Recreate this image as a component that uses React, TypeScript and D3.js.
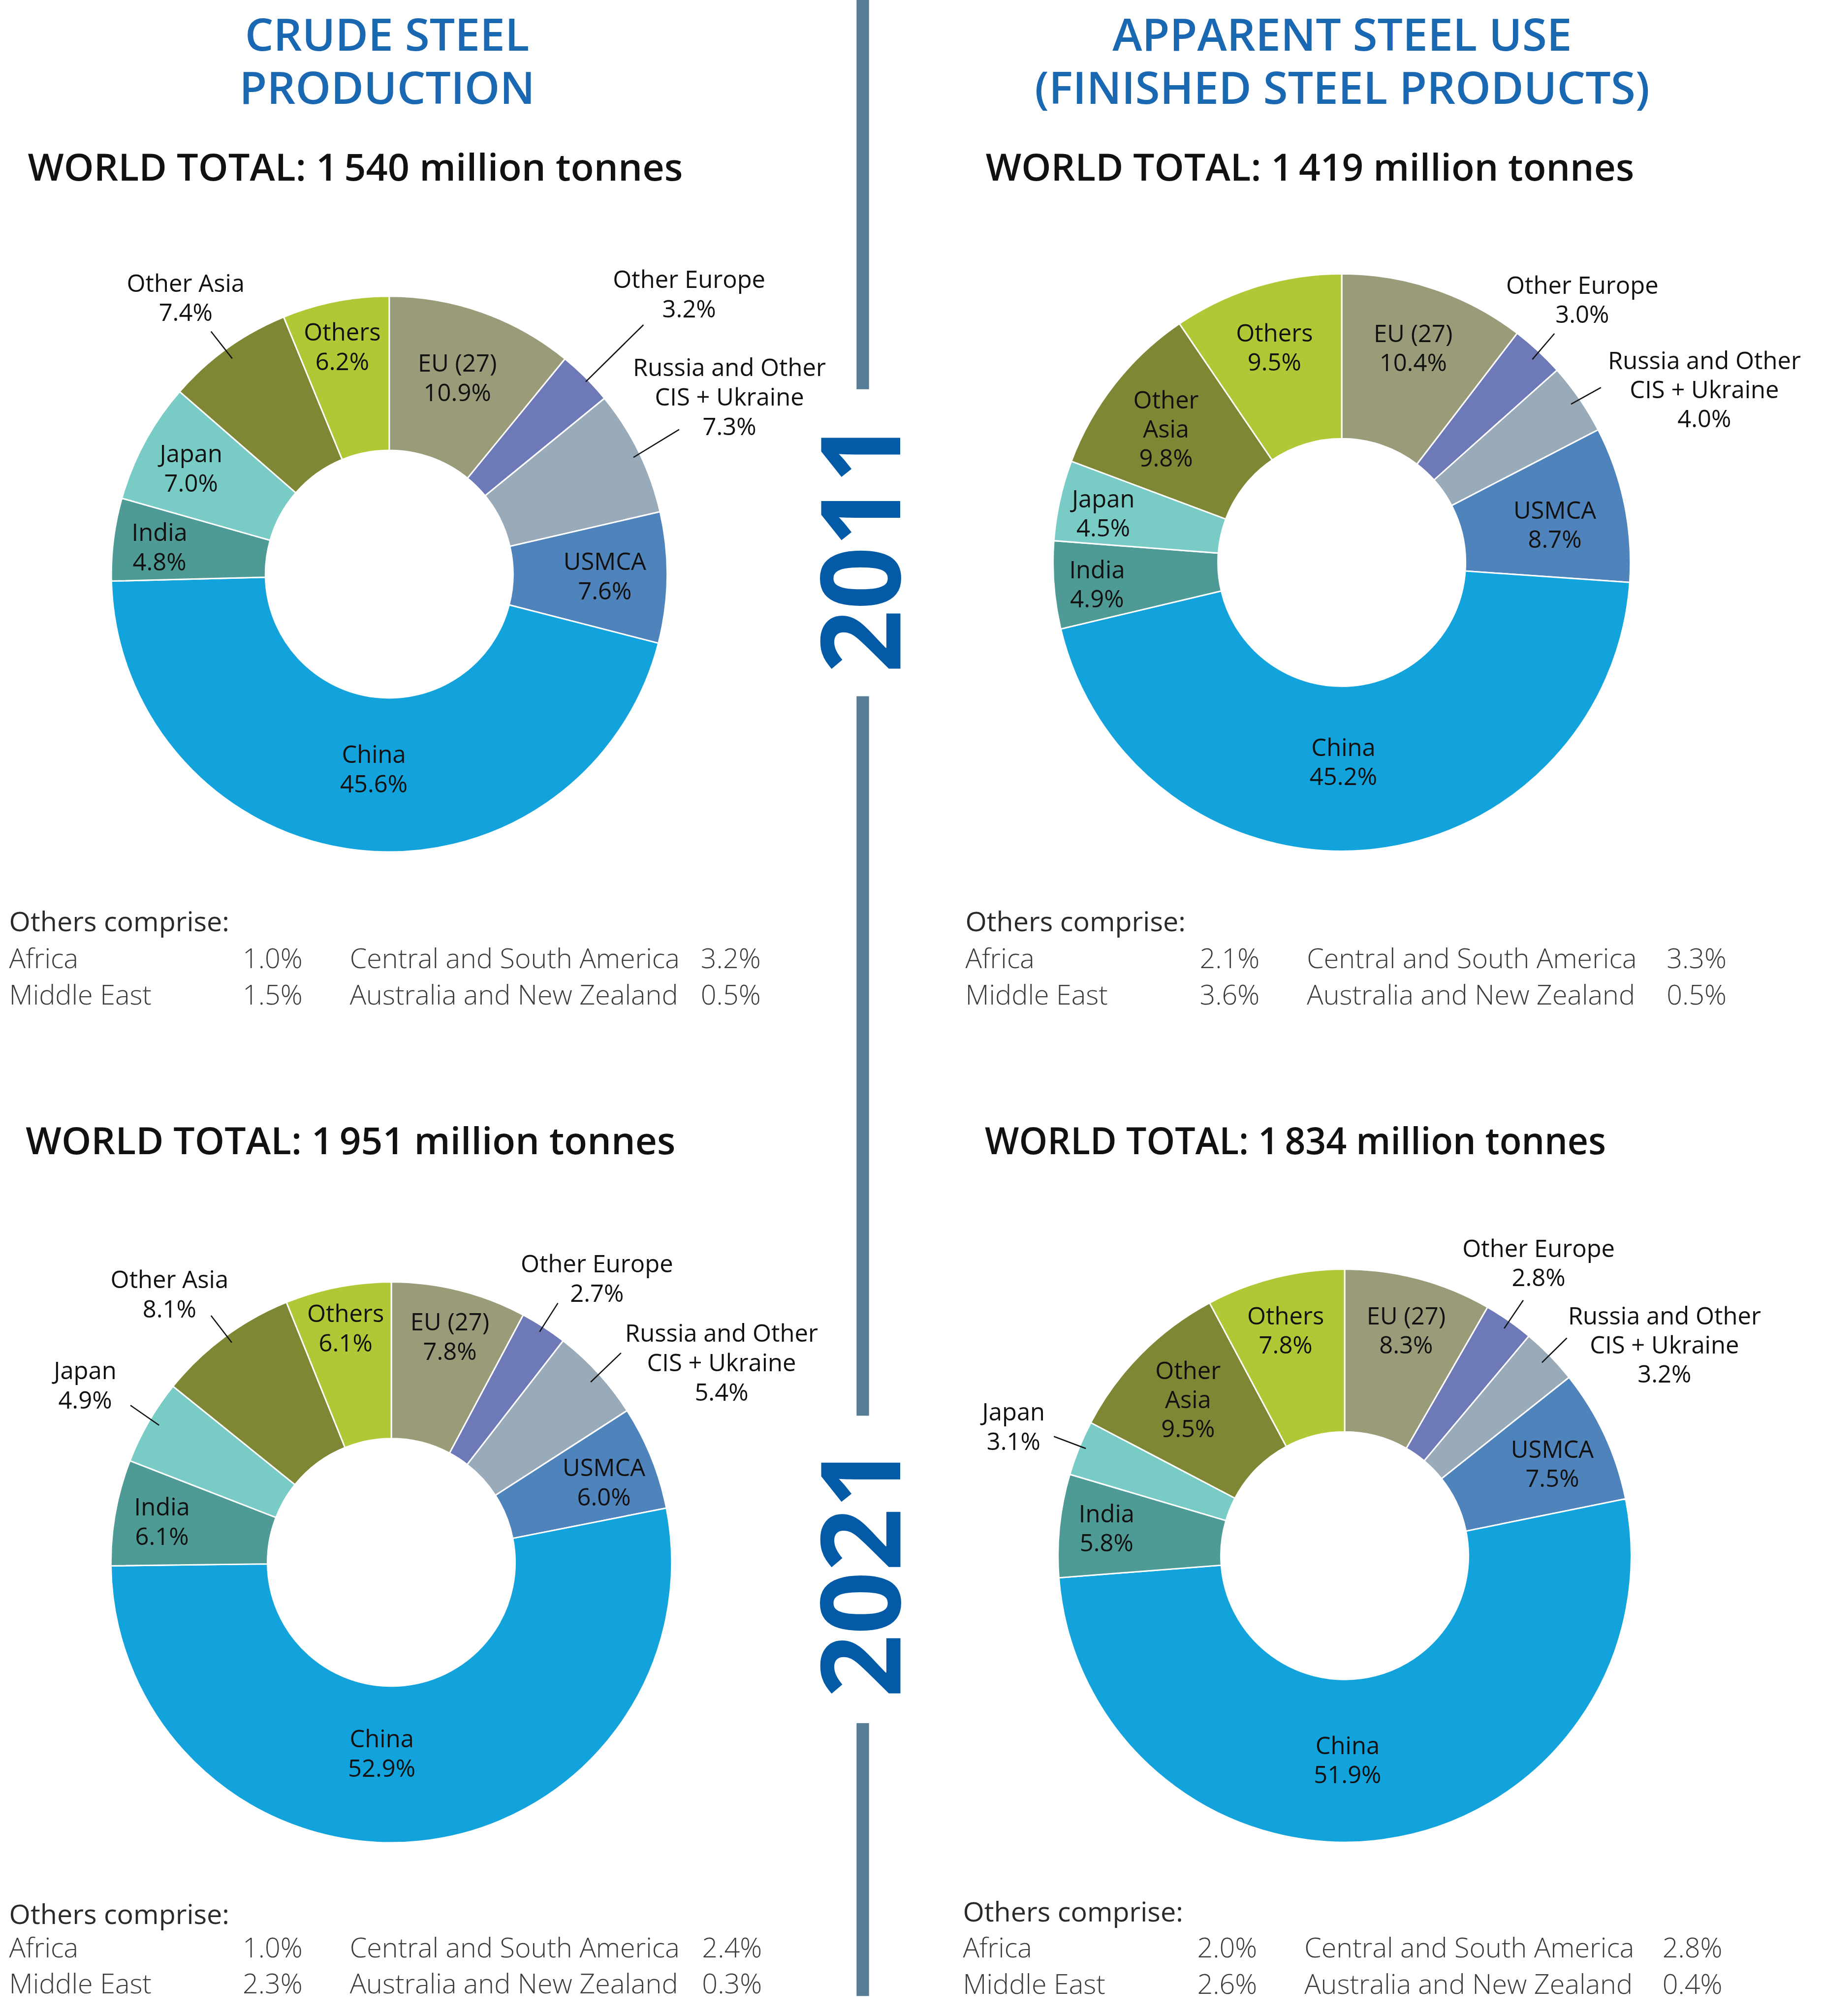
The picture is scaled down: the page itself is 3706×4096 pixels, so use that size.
import React from "react";
import * as d3 from "d3";

// ---------- DATA ----------
const categories = [
  "EU (27)",
  "Other Europe",
  "Russia and Other CIS + Ukraine",
  "USMCA",
  "China",
  "India",
  "Japan",
  "Other Asia",
  "Others",
];
const crude2011 = [10.9, 3.2, 7.3, 7.6, 45.6, 4.8, 7.0, 7.4, 6.2];
const use2011 = [10.4, 3.0, 4.0, 8.7, 45.2, 4.9, 4.5, 9.8, 9.5];
const crude2021 = [7.8, 2.7, 5.4, 6.0, 52.9, 6.1, 4.9, 8.1, 6.1];
const use2021 = [8.3, 2.8, 3.2, 7.5, 51.9, 5.8, 3.1, 9.5, 7.8];

const worldTotals = [1540, 1419, 1951, 1834];

const otherRegions = ["Africa", "Middle East", "Central and South America", "Australia and New Zealand"];
const othersCrude2011 = [1.0, 1.5, 3.2, 0.5];
const othersUse2011 = [2.1, 3.6, 3.3, 0.5];
const othersCrude2021 = [1.0, 2.3, 2.4, 0.3];
const othersUse2021 = [2.0, 2.6, 2.8, 0.4];

const years = ["2011", "2021"];
const columnTitles = [["CRUDE STEEL", "PRODUCTION"], ["APPARENT STEEL USE", "(FINISHED STEEL PRODUCTS)"]];

// ---------- STYLE / LAYOUT ----------
const colors = ["#9a9c79", "#6e79b8", "#99aab9", "#4f83bb", "#12a3dc", "#4e9a94", "#78ccc5", "#7f8734", "#b1c836"];
const FONT = "'Open Sans', 'Noto Sans', sans-serif";
const SCALE = 0.844;

type LabelPos = { dx: number; dy: number; lines: string[]; leader?: [number, number, number, number] };

// label anchor (centre of text, first baseline) relative to donut centre; per category index
const labelLayouts: LabelPos[][] = [
  [
    { dx: 164, dy: -487, lines: ["EU (27)"] },
    { dx: 722, dy: -689, lines: ["Other Europe"], leader: [612, -600, 473, -463] },
    { dx: 819, dy: -477, lines: ["Russia and Other", "CIS + Ukraine"], leader: [698, -348, 588, -281] },
    { dx: 519, dy: -10, lines: ["USMCA"] },
    { dx: -37, dy: 454, lines: ["China"] },
    { dx: -553, dy: -80, lines: ["India"] },
    { dx: -477, dy: -269, lines: ["Japan"] },
    { dx: -490, dy: -680, lines: ["Other Asia"], leader: [-429, -584, -378, -519] },
    { dx: -113, dy: -562, lines: ["Others"] },
  ],
  [
    { dx: 172, dy: -531, lines: ["EU (27)"] },
    { dx: 579, dy: -647, lines: ["Other Europe"], leader: [512, -551, 459, -489] },
    { dx: 873, dy: -465, lines: ["Russia and Other", "CIS + Ukraine"], leader: [624, -421, 552, -381] },
    { dx: 513, dy: -105, lines: ["USMCA"] },
    { dx: 4, dy: 466, lines: ["China"] },
    { dx: -589, dy: 38, lines: ["India"] },
    { dx: -574, dy: -132, lines: ["Japan"] },
    { dx: -423, dy: -371, lines: ["Other", "Asia"] },
    { dx: -162, dy: -532, lines: ["Others"] },
  ],
  [
    { dx: 141, dy: -558, lines: ["EU (27)"] },
    { dx: 495, dy: -698, lines: ["Other Europe"], leader: [401, -624, 357, -555] },
    { dx: 795, dy: -531, lines: ["Russia and Other", "CIS + Ukraine"], leader: [553, -504, 480, -434] },
    { dx: 512, dy: -208, lines: ["USMCA"] },
    { dx: -23, dy: 445, lines: ["China"] },
    { dx: -552, dy: -113, lines: ["India"] },
    { dx: -737, dy: -441, lines: ["Japan"], leader: [-628, -378, -559, -330] },
    { dx: -534, dy: -660, lines: ["Other Asia"], leader: [-434, -594, -384, -529] },
    { dx: -110, dy: -578, lines: ["Others"] },
  ],
  [
    { dx: 148, dy: -557, lines: ["EU (27)"] },
    { dx: 467, dy: -719, lines: ["Other Europe"], leader: [430, -615, 384, -547] },
    { dx: 770, dy: -557, lines: ["Russia and Other", "CIS + Ukraine"], leader: [535, -524, 475, -465] },
    { dx: 500, dy: -236, lines: ["USMCA"] },
    { dx: 7, dy: 478, lines: ["China"] },
    { dx: -573, dy: -80, lines: ["India"] },
    { dx: -797, dy: -325, lines: ["Japan"], leader: [-700, -287, -623, -258] },
    { dx: -377, dy: -425, lines: ["Other", "Asia"] },
    { dx: -142, dy: -557, lines: ["Others"] },
  ],
];

const charts = [
  { values: crude2011, others: othersCrude2011, total: worldTotals[0], cx: 937, cy: 1382, R: 669, r: 298, lh: 71,
    totalX: 67, totalY: 435, totalW: 1577, ox: 22, oc: [562, 820, 1665], oy: [2242, 2330, 2418], labels: labelLayouts[0] },
  { values: use2011, others: othersUse2011, total: worldTotals[1], cx: 3230, cy: 1354, R: 695, r: 298, lh: 70,
    totalX: 2373, totalY: 435, totalW: 1561, ox: 2324, oc: [564, 822, 1688], oy: [2242, 2330, 2418], labels: labelLayouts[1] },
  { values: crude2021, others: othersCrude2021, total: worldTotals[2], cx: 942, cy: 3761, R: 675, r: 298, lh: 71,
    totalX: 62, totalY: 2779, totalW: 1564, ox: 22, oc: [562, 820, 1668], oy: [4631, 4712, 4799], labels: labelLayouts[2] },
  { values: use2021, others: othersUse2021, total: worldTotals[3], cx: 3237, cy: 3745, R: 690, r: 298, lh: 70,
    totalX: 2371, totalY: 2779, totalW: 1495, ox: 2318, oc: [564, 822, 1684], oy: [4625, 4712, 4800], labels: labelLayouts[3] },
];

const fmtPct = (v: number) => v.toFixed(1) + "%";
const fmtTotal = (v: number) => {
  const s = String(v);
  return s.length > 3 ? s.slice(0, s.length - 3) + "\u2009" + s.slice(s.length - 3) : s;
};

function Donut({ chart }: { chart: (typeof charts)[number] }) {
  const pie = d3.pie<number>().sort(null).value((d) => d).startAngle(0).endAngle(2 * Math.PI);
  const arcs = pie(chart.values);
  const arc = d3.arc<d3.PieArcDatum<number>>().innerRadius(chart.r).outerRadius(chart.R);
  return (
    <g transform={`translate(${chart.cx},${chart.cy})`}>
      {arcs.map((a, i) => (
        <path key={categories[i]} d={arc(a) || ""} fill={colors[i]} stroke="#ffffff" strokeWidth={3.5} strokeLinejoin="miter" />
      ))}
      {arcs.map((a, i) => {
        const L = chart.labels[i];
        const lines = [...L.lines, fmtPct(chart.values[i])];
        return (
          <g key={"l" + i}>
            {L.leader && (
              <line x1={L.leader[0]} y1={L.leader[1]} x2={L.leader[2]} y2={L.leader[3]} stroke="#111" strokeWidth={3} />
            )}
            <text x={L.dx} y={L.dy} textAnchor="middle" fontFamily={FONT} fontSize={58} fill="#111">
              {lines.map((t, k) => (
                <tspan key={k} x={L.dx} dy={k === 0 ? 0 : chart.lh}>
                  {t}
                </tspan>
              ))}
            </text>
          </g>
        );
      })}
    </g>
  );
}

function OthersBlock({ chart }: { chart: (typeof charts)[number] }) {
  const { ox, oc, oy, others } = chart;
  return (
    <g fontFamily={FONT} fontSize={66}>
      <text x={ox} y={oy[0]} fill="#2a2a2a" fontWeight={400}>
        Others comprise:
      </text>
      {[0, 1].map((row) => (
        <g key={row} fill="#3c3c3c" fontWeight={300}>
          <text x={ox} y={oy[row + 1]}>{otherRegions[row]}</text>
          <text x={ox + oc[0]} y={oy[row + 1]}>{fmtPct(others[row])}</text>
          <text x={ox + oc[1]} y={oy[row + 1]}>{otherRegions[row + 2]}</text>
          <text x={ox + oc[2]} y={oy[row + 1]}>{fmtPct(others[row + 2])}</text>
        </g>
      ))}
    </g>
  );
}

export default function App() {
  const lineX = 2077;
  const lineSegs: [number, number][] = [
    [0, 937],
    [1676, 3408],
    [4148, 4805],
  ];
  return (
    <svg
      width={3706}
      height={4096}
      style={{ position: "absolute", left: 0, top: 0, background: "#fff" }}
      xmlns="http://www.w3.org/2000/svg"
    >
      <rect width={3706} height={4096} fill="#fff" />
      <g transform={`scale(${SCALE})`}>
        {/* column titles */}
        {columnTitles.map((t, i) =>
          t.map((line, k) => (
            <text
              key={i + "-" + k}
              x={i === 0 ? 932 : 3231}
              y={k === 0 ? 122 : 250}
              textAnchor="middle"
              fontFamily={FONT}
              fontWeight={600}
              fontSize={108}
              fill="#1a67b2"
            >
              {line}
            </text>
          ))
        )}

        {/* divider */}
        {lineSegs.map((s, i) => (
          <rect key={i} x={lineX - 15} y={s[0]} width={30} height={s[1] - s[0]} fill="#587d96" />
        ))}
        {years.map((y, i) => (
          <text
            key={y}
            transform={`translate(2167,${i === 0 ? 1316 : 3783}) rotate(-90)`}
            textAnchor="middle"
            fontFamily={FONT}
            fontWeight={700}
            fontSize={266}
            fill="#035ba8"
          >
            {y}
          </text>
        ))}

        {charts.map((c, i) => (
          <g key={i}>
            <text
              x={c.totalX}
              y={c.totalY}
              fontFamily={FONT}
              fontWeight={600}
              fontSize={90}
              fill="#111"
              textLength={c.totalW}
              lengthAdjust="spacingAndGlyphs"
            >
              {`WORLD TOTAL: ${fmtTotal(c.total)} million tonnes`}
            </text>
            <Donut chart={c} />
            <OthersBlock chart={c} />
          </g>
        ))}
      </g>
    </svg>
  );
}
